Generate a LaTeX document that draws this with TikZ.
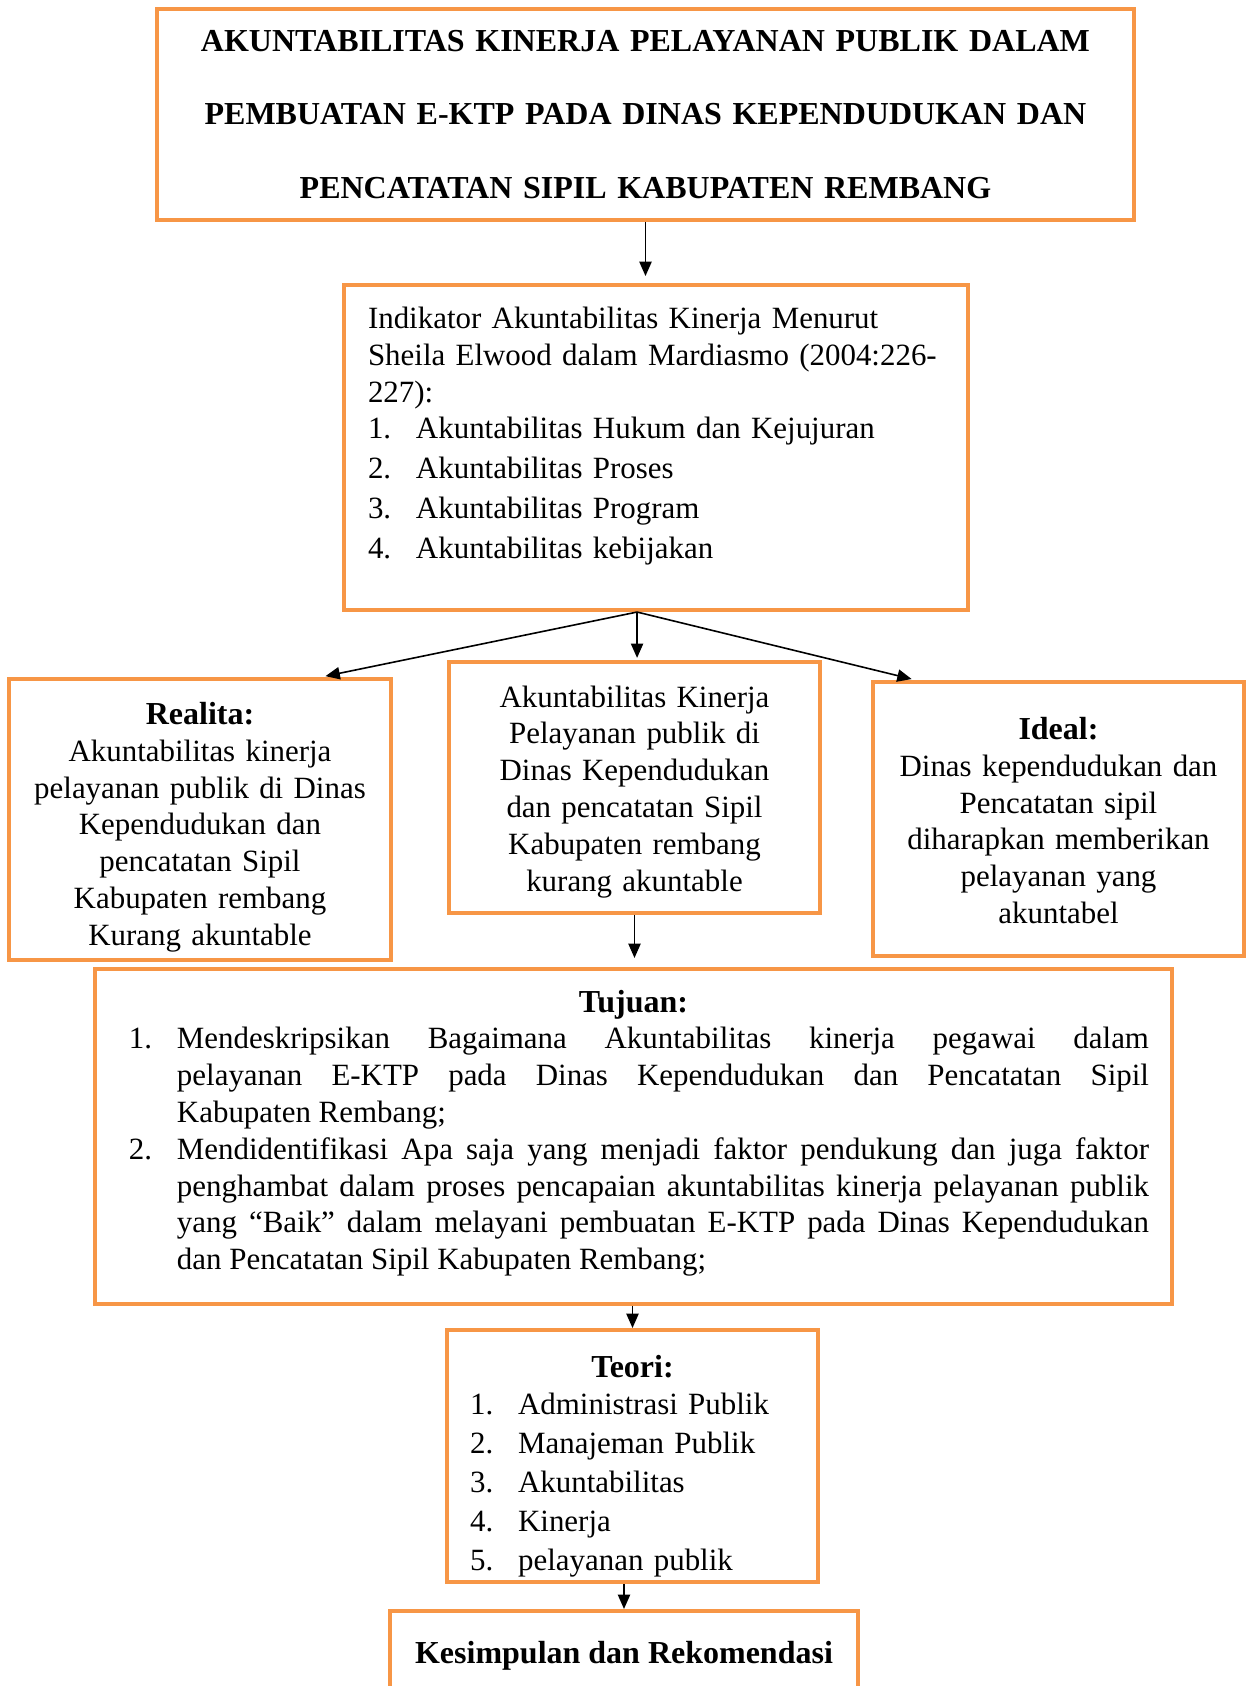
\documentclass[tikz,border=0pt]{standalone}
\usepackage{fontspec}
\setmainfont{Liberation Serif}
\usetikzlibrary{arrows.meta}
\definecolor{oranye}{HTML}{F79646}
\tikzset{
  kotak/.style={draw=oranye, line width=1.5pt, inner sep=0pt,
    font=\fontsize{11.6}{13.8}\selectfont},
}
\newcommand{\butir}[1]{\makebox[18pt][l]{#1}}
\newcommand{\kepala}[1]{{\fontsize{12}{13.8}\selectfont\bfseries #1}}

\begin{document}
\begin{tikzpicture}[x=0.375pt, y=-0.375pt, line width=0.6pt,
    >={Triangle[length=5.4pt,width=4.6pt]}]
    \useasboundingbox (0,0) rectangle (1247,1686);
    \clip (0,0) rectangle (1247,1686);
    \node[kotak, minimum width=366.4pt, minimum height=79.1pt, text width=350pt, align=center,
      font=\fontsize{12}{27.4}\selectfont\bfseries] (judul) at (645.5,114.5)
      {AKUNTABILITAS KINERJA PELAYANAN PUBLIK DALAM\\
       PEMBUATAN E-KTP PADA DINAS KEPENDUDUKAN DAN\\
       PENCATATAN SIPIL KABUPATEN REMBANG};
    \node[kotak, minimum width=234pt, minimum height=121.9pt, text width=228pt, align=left] (indikator) at (656,447.5)
      {\leftskip=6pt Indikator Akuntabilitas Kinerja Menurut\\
       Sheila Elwood dalam Mardiasmo (2004:226-\\
       227):\\
       \butir{1.}Akuntabilitas Hukum dan Kejujuran\\[1.1pt]
       \butir{2.}Akuntabilitas Proses\\[1.1pt]
       \butir{3.}Akuntabilitas Program\\[1.1pt]
       \butir{4.}Akuntabilitas kebijakan\rule[-11.2pt]{0pt}{11.2pt}\par};
    \node[kotak, minimum width=143.25pt, minimum height=105.4pt, text width=137pt, align=center] (realita) at (200,819.5)
      {\rule{0pt}{14pt}\kepala{Realita:}\\ Akuntabilitas kinerja\\ pelayanan publik di Dinas\\ Kependudukan dan\\
       pencatatan Sipil\\ Kabupaten rembang\\ Kurang akuntable};
    \node[kotak, minimum width=139.1pt, minimum height=94.1pt, text width=133pt, align=center] (tengah) at (634.5,787.5)
      {\rule{0pt}{11.2pt}Akuntabilitas Kinerja\\ Pelayanan publik di\\ Dinas Kependudukan\\ dan pencatatan Sipil\\
       Kabupaten rembang\\ kurang akuntable};
    \node[kotak, minimum width=139.1pt, minimum height=102.75pt, text width=133pt, align=center] (ideal) at (1058.5,819)
      {\rule{0pt}{9.5pt}\kepala{Ideal:}\\ Dinas kependudukan dan\\ Pencatatan sipil\\ diharapkan memberikan\\
       pelayanan yang\\ akuntabel};
    \node[kotak, minimum width=403.9pt, minimum height=125.6pt, text width=386.6pt, align=justify] (tujuan) at (633.5,1136.5)
      {\hyphenpenalty=10000 \tolerance=9999
       {\centering\kepala{Tujuan:}\par}
       \leftskip=4.1pt
       \hangindent=18pt \hangafter=1 \noindent\butir{1.}Mendeskripsikan Bagaimana Akuntabilitas kinerja pegawai dalam\linebreak
       pelayanan E-KTP pada Dinas Kependudukan dan Pencatatan Sipil\linebreak
       Kabupaten Rembang;\par
       \hangindent=18pt \hangafter=1 \noindent\butir{2.}Mendidentifikasi Apa saja yang menjadi faktor pendukung dan juga faktor\linebreak
       penghambat dalam proses pencapaian akuntabilitas kinerja pelayanan publik\linebreak
       yang “Baik” dalam melayani pembuatan E-KTP pada Dinas Kependudukan\linebreak
       dan Pencatatan Sipil Kabupaten Rembang;\rule[-5pt]{0pt}{5pt}\par};
    \node[kotak, minimum width=139.1pt, minimum height=94.5pt, text width=133pt, align=left] (teori) at (632.5,1456)
      {{\centering\rule{0pt}{16pt}\kepala{Teori:}\par}
       \leftskip=5.6pt
       \butir{1.}Administrasi Publik\\[0.9pt]
       \butir{2.}Manajeman Publik\\[0.9pt]
       \butir{3.}Akuntabilitas\\[0.9pt]
       \butir{4.}Kinerja\\[0.9pt]
       \butir{5.}pelayanan publik\par};
    \node[kotak, minimum width=175.5pt, minimum height=33.4pt, align=center] (simpul) at (624,1655.5)
      {\kepala{Kesimpulan dan Rekomendasi}};
    \coordinate (cabang) at ([xshift=-7.1pt]indikator.south);
      \path[->]
        (judul.south) edge[shorten >=2.6pt] (judul.south |- indikator.north)
        (cabang) edge[shorten >=1.5pt] ([xshift=-26.8pt]realita.north east)
        (cabang) edge[shorten >=0.8pt] (cabang |- tengah.north)
        (cabang) edge[shorten >=1.5pt] ([xshift=16.7pt]ideal.north west)
        (tengah.south) edge[shorten >=3.4pt] (tengah.south |- tujuan.north)
        (teori.north |- tujuan.south) edge (teori.north)
        (simpul.north |- teori.south) edge (simpul.north);
\end{tikzpicture}
\end{document}
